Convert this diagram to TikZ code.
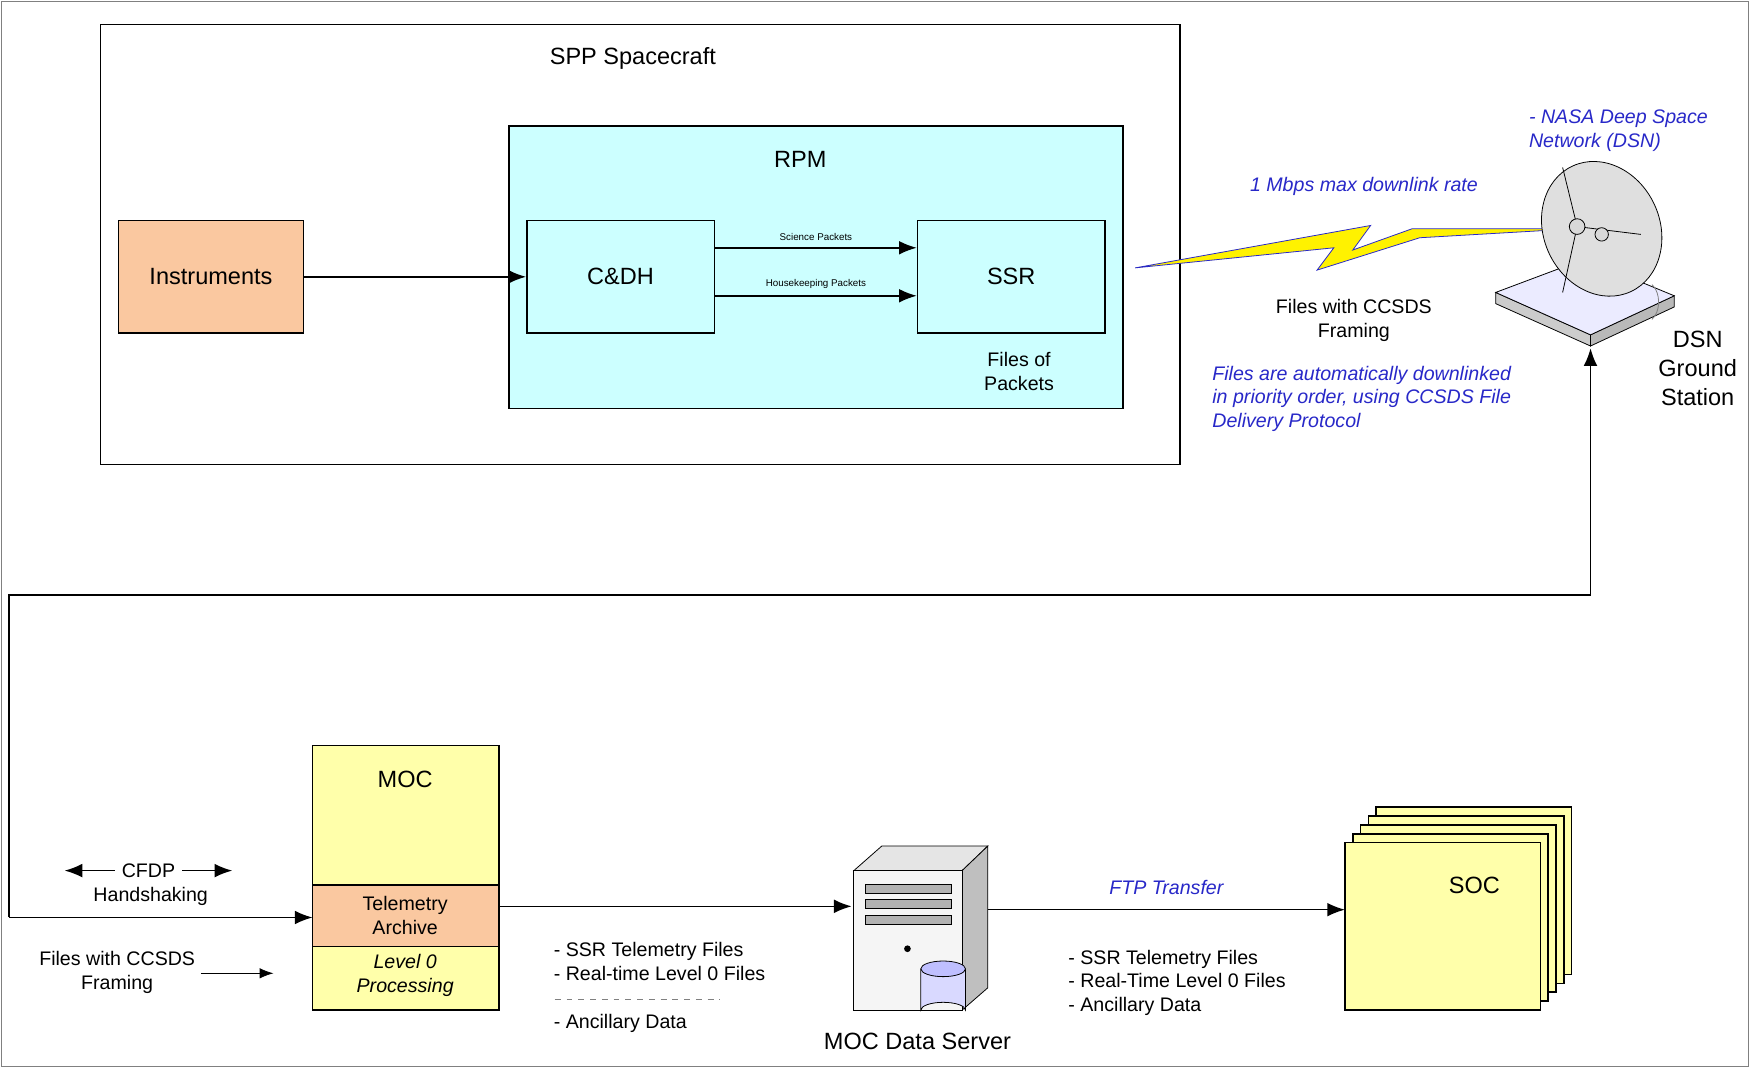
\documentclass[tikz,border=0pt]{standalone}
\usepackage{fontspec}
\setmainfont{Liberation Sans}
\usetikzlibrary{positioning,arrows.meta}
\definecolor{rpmcyan}{RGB}{204,255,255}
\definecolor{instorange}{RGB}{250,200,160}
\definecolor{mocyellow}{RGB}{255,255,170}
\definecolor{linkblue}{RGB}{40,40,200}
\tikzset{
  box/.style={draw, thick, inner sep=0pt},
  flow/.style={-{Latex[length=9pt,width=7pt]}, thick},
  note/.style={font=\fontsize{10}{12}\selectfont, align=center},
  bluenote/.style={font=\fontsize{10}{12}\selectfont\itshape, text=linkblue},
  tiny/.style={font=\fontsize{5}{6}\selectfont}
}
\begin{document}
\begin{tikzpicture}[x=0.02cm, y=-0.02cm]
    \useasboundingbox (0,0) rectangle (1567,957) ;
    \draw [gray] (1,1) rectangle (1566,955) ;

    % spacecraft
    \draw [box] (90,22) rectangle (1057,416) ;
    \node [note, font=\fontsize{12}{14}\selectfont] (spp) at (567,52) {SPP Spacecraft} ;
    \draw [box, fill=rpmcyan] (456,113) rectangle (1006,366) ;
    \node [font=\fontsize{12}{14}\selectfont] (rpm) at (717,143) {RPM} ;
    \node [box, fill=instorange, minimum width=3.32cm, minimum height=2.02cm, font=\fontsize{12}{14}\selectfont] (inst) at (189,248) {Instruments} ;
    \node [box, minimum width=3.36cm, minimum height=2.02cm, font=\fontsize{12}{14}\selectfont] (cdh) at (556,248) {C\&DH} ;
    \node [box, minimum width=3.36cm, minimum height=2.02cm, font=\fontsize{12}{14}\selectfont] (ssr) at (906,248) {SSR} ;
    \draw [flow] (inst) -- (cdh) ;
    \draw [flow] (cdh.east |- 0,222) -- node [tiny, above] {Science Packets} (ssr.west |- 0,222) ;
    \draw [flow] (cdh.east |- 0,265) -- node [tiny, above] {Housekeeping Packets} (ssr.west |- 0,265) ;
    \node [note] (files) at (913,333) {Files of\\Packets} ;

    % downlink
    \coordinate (tx) at (1017,240) ;
    \coordinate (rx) at (1410,205) ;
    \draw [linkblue, fill=yellow] (tx) -- (1195,222) -- (1180,242) -- (1272,213) -- (rx)
        -- (1265,205) -- (1212,224) -- (1228,202) -- cycle ;
    \node [bluenote] (rate) at (1222,167) {1 Mbps max downlink rate} ;
    \node [bluenote, align=left] (dsnname) at (1450,117) {- NASA Deep Space\\Network (DSN)} ;
    \node [note] (ccsds) at (1213,287) {Files with CCSDS\\Framing} ;
    \node [bluenote, align=left, anchor=west] (cfdpnote) at (1080,357) {Files are automatically downlinked\\in priority order, using CCSDS File\\Delivery Protocol} ;

    % ground station
    \draw [fill=gray!40] (1340,262) -- (1425,300) -- (1425,310) -- (1340,272) -- cycle ;
    \draw [fill=gray!55] (1425,300) -- (1500,265) -- (1500,275) -- (1425,310) -- cycle ;
    \draw [fill=blue!8] (1340,262) -- (1420,232) -- (1500,265) -- (1425,300) -- cycle ;
    \draw [gray] (1480,255) arc (-60:60:12 and 18) ;
    \draw [fill=gray!25] (1435,205) ellipse [x radius=52, y radius=62, rotate=25] ;
    \draw (1413,203) -- (1400,150) (1413,203) -- (1400,262) (1413,203) -- (1470,210) ;
    \draw [fill=gray!30] (1413,203) circle (7) (1435,210) circle (6) ;
    \node [note, font=\fontsize{12}{15}\selectfont] (dsn) at (1521,330) {DSN\\Ground\\Station} ;
    \coordinate (ant) at (1425,312) ;

    % ground link
    \coordinate (c1) at (1425,533) ;
    \coordinate (c2) at (8,533) ;
    \coordinate (c3) at (8,822) ;
    \draw [flow] (c1) -- (ant) ;
    \draw [thick] (c1) -- (c2) -- (c3) ;

    % MOC
    \draw [box, fill=mocyellow] (280,668) rectangle (447,905) ;
    \draw [box, fill=instorange] (280,793) rectangle (447,848) ;
    \node [font=\fontsize{12}{14}\selectfont] (moc) at (363,698) {MOC} ;
    \node [note] (archive) at (363,820) {Telemetry\\Archive} ;
    \node [note, font=\fontsize{10}{12}\selectfont\itshape] (level0) at (363,874) {Level 0\\Processing} ;
    \coordinate (mocin) at (280,822) ;
    \draw [flow] (c3) -- (mocin) ;
    \node [note] (cfdp) at (133,780) {CFDP} ;
    \node [note] (hand) at (135,803) {Handshaking} ;
    \draw [flow] (cfdp.west) -- ++(-45,0) ;
    \draw [flow] (cfdp.east) -- ++(45,0) ;
    \node [note] (ccsdsg) at (105,871) {Files with CCSDS\\Framing} ;
    \coordinate (fin) at (245,872) ;
    \draw [-{Latex[length=7pt]}] (180,872) -- (fin) ;

    % data server
    \coordinate (mocout) at (447,812) ;
    \coordinate (srvin) at (763,812) ;
    \draw [flow] (mocout) -- (srvin) ;
    \node [note, align=left, anchor=north west] (list1) at (490,838) {- SSR Telemetry Files\\- Real-time Level 0 Files} ;
    \draw [dashed, gray] (497,895) -- (645,895) ;
    \node [note, anchor=west] (anc1) at (490,917) {- Ancillary Data} ;
    \draw [fill=gray!20] (765,780) -- (790,758) -- (885,758) -- (862,780) -- cycle ;
    \draw [fill=gray!50] (862,780) -- (885,758) -- (885,885) -- (862,905) -- cycle ;
    \draw [fill=gray!8] (765,780) rectangle (862,905) ;
    \draw [fill=gray!60] (775,792) rectangle (852,800) (775,806) rectangle (852,814) (775,820) rectangle (852,828) ;
    \fill (813,850) circle (3) ;
    \draw [fill=blue!15] (825,868) -- (825,905) arc (180:360:20 and 7) -- (865,868) ;
    \draw [fill=blue!25] (845,868) ellipse [x radius=20, y radius=7] ;
    \node [font=\fontsize{12}{14}\selectfont] (server) at (822,933) {MOC Data Server} ;

    % SOC
    \coordinate (srvout) at (885,815) ;
    \coordinate (socin) at (1205,815) ;
    \draw [flow] (srvout) -- node [bluenote, above=4pt] {FTP Transfer} (socin) ;
    \node [note, align=left, anchor=north west] (list2) at (951,845) {- SSR Telemetry Files\\- Real-Time Level 0 Files\\- Ancillary Data} ;
    \foreach \k in {4,3,2,1,0}
        \draw [box, fill=mocyellow] (1205+7*\k,755-8*\k) rectangle ++(175,150) ;
    \node [font=\fontsize{12}{14}\selectfont] (soc) at (1321,793) {SOC} ;
\end{tikzpicture}
\end{document}
